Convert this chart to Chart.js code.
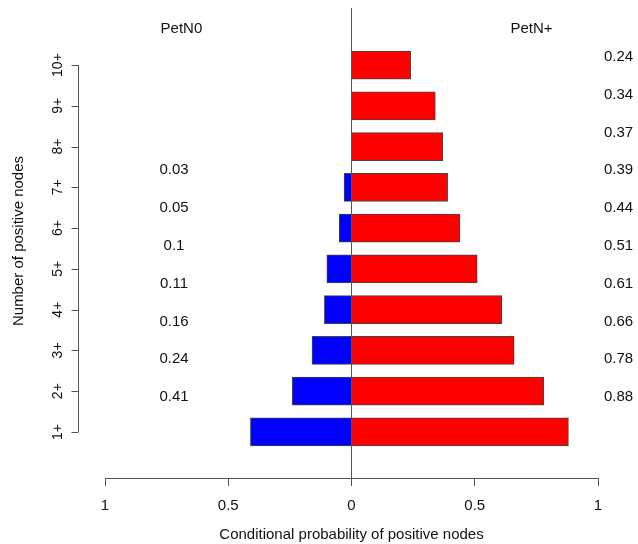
<!DOCTYPE html>
<html lang="en">
<head>
	<meta charset="UTF-8">
	<title>Conditional probability of positive nodes</title>
	<style>
		html, body { margin: 0; padding: 0; background: #fff; }
		#wrap { width: 638px; height: 544px; }
	</style>
</head>
<body>
	<div id="wrap"><canvas id="myChart"></canvas></div>

	<script src="https://cdn.jsdelivr.net/npm/chart.js"></script>
	<script>
		// categories, bottom to top
		const categories = ['1+', '2+', '3+', '4+', '5+', '6+', '7+', '8+', '9+', '10+'];
		// PetN0 (drawn to the left) and PetN+ (drawn to the right)
		const petN0 = [0.41, 0.24, 0.16, 0.11, 0.1, 0.05, 0.03, null, null, null];
		const petNplus = [0.88, 0.78, 0.66, 0.61, 0.51, 0.44, 0.39, 0.37, 0.34, 0.24];
		const xTicks = [-1, -0.5, 0, 0.5, 1];

		const font = '"Liberation Sans", Arial, sans-serif';
		Chart.defaults.font.family = font;
		Chart.defaults.font.size = 15;
		Chart.defaults.color = '#111';

		const leftData = petN0.map((v, i) => ({ x: v === null ? null : -v, y: i }));
		const rightData = petNplus.map((v, i) => ({ x: v, y: i }));

		// R style y axis, value labels and column headers
		const extras = {
			id: 'extras',
			afterDraw(chart) {
				const ctx = chart.ctx;
				const x = chart.scales.x, y = chart.scales.y;
				ctx.save();
				ctx.strokeStyle = '#555';
				ctx.lineWidth = 1;
				const ax = 78.5;
				ctx.beginPath();
				ctx.moveTo(ax, y.getPixelForValue(0));
				ctx.lineTo(ax, y.getPixelForValue(categories.length - 1));
				categories.forEach((c, i) => {
					const py = Math.round(y.getPixelForValue(i)) + 0.5;
					ctx.moveTo(ax, py);
					ctx.lineTo(ax - 7, py);
				});
				ctx.stroke();

				ctx.fillStyle = '#111';
				ctx.textAlign = 'center';
				ctx.textBaseline = 'middle';
				ctx.font = '14px ' + font;
				categories.forEach((c, i) => {
					ctx.save();
					ctx.translate(58, y.getPixelForValue(i));
					ctx.rotate(-Math.PI / 2);
					ctx.fillText(c, 0, 0);
					ctx.restore();
				});

				ctx.font = '15px ' + font;
				ctx.save();
				ctx.translate(19, 241);
				ctx.rotate(-Math.PI / 2);
				ctx.fillText('Number of positive nodes', 0, 0);
				ctx.restore();

				// headers
				const hy = y.getPixelForValue(9.9);
				ctx.fillText('PetN0', x.getPixelForValue(-0.69), hy);
				ctx.fillText('PetN+', x.getPixelForValue(0.73), hy);

				// value labels
				categories.forEach((c, i) => {
					const ly = y.getPixelForValue(i) - (35 - 3 * i);
					if (petN0[i] !== null) {
						ctx.textAlign = 'center';
						ctx.fillText(String(petN0[i]), x.getPixelForValue(-0.72), ly);
					}
					ctx.textAlign = 'left';
					ctx.fillText(String(petNplus[i]), x.getPixelForValue(1) + 6, ly);
				});
				ctx.restore();
			}
		};

		new Chart(document.getElementById('myChart'), {
			type: 'bar',
			data: {
				datasets: [{
					label: 'PetN0',
					data: leftData,
					backgroundColor: '#0000ff',
					borderColor: '#444',
					borderWidth: 1,
					grouped: false,
					barThickness: 28
				}, {
					label: 'PetN+',
					data: rightData,
					backgroundColor: '#ff0000',
					borderColor: '#444',
					borderWidth: 1,
					grouped: false,
					barThickness: 28
				}]
			},
			options: {
				indexAxis: 'y',
				responsive: true,
				maintainAspectRatio: false,
				animation: false,
				layout: { padding: { left: 105, right: 40, top: 8, bottom: 0 } },
				plugins: {
					legend: { display: false },
					tooltip: { enabled: false }
				},
				scales: {
					x: {
						type: 'linear',
						min: -1,
						max: 1,
						afterBuildTicks: s => { s.ticks = xTicks.map(v => ({ value: v })); },
						afterFit: s => { s.height = 66; },
						ticks: {
							callback: v => String(Math.abs(v)),
							padding: 11,
							color: '#111'
						},
						grid: {
							color: c => (c.tick && c.tick.value === 0 ? '#555' : 'rgba(0,0,0,0)'),
							tickColor: '#555',
							tickLength: 8,
							drawOnChartArea: true
						},
						border: { display: true, color: '#555' },
						title: {
							display: true,
							text: 'Conditional probability of positive nodes',
							color: '#111',
							padding: { top: 0, bottom: 0 }
						}
					},
					y: {
						type: 'linear',
						display: false,
						offset: false,
						min: -1.13,
						max: 10.4
					}
				}
			},
			plugins: [extras]
		});
	</script>
</body>
</html>
